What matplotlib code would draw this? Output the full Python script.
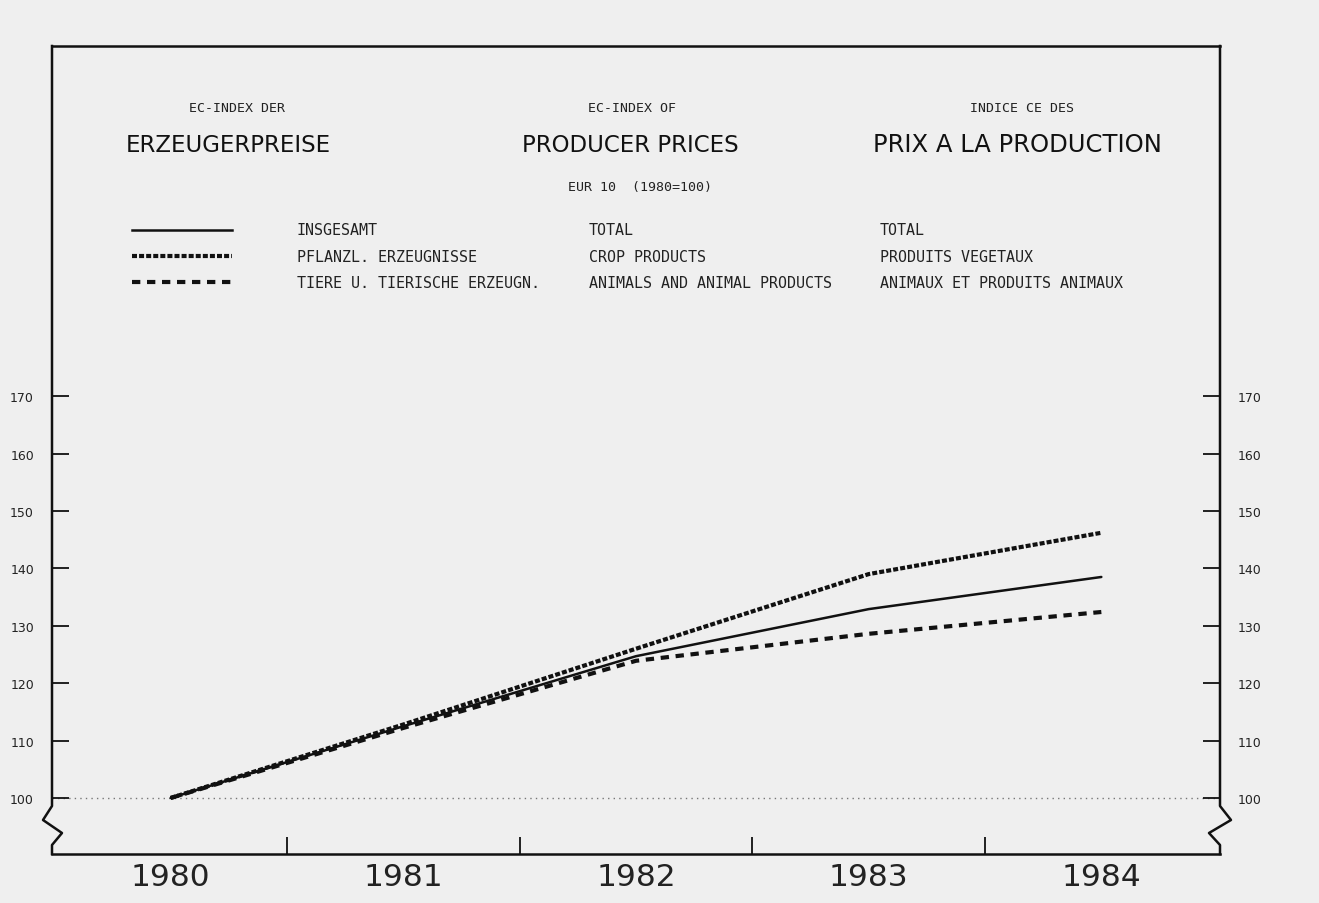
import matplotlib
matplotlib.use("Agg")
import matplotlib.pyplot as plt
from matplotlib.lines import Line2D

# Data (EUR 10, 1980 = 100)
years = [1980, 1981, 1982, 1983, 1984]
total = [100, 112.5, 124.7, 132.9, 138.5]
crop = [100, 112.8, 126.0, 139.0, 146.2]
animal = [100, 112.2, 123.9, 128.6, 132.4]

yticks = [100, 110, 120, 130, 140, 150, 160, 170]
half_years = [1980.5, 1981.5, 1982.5, 1983.5]

legend_de = ["INSGESAMT", "PFLANZL. ERZEUGNISSE", "TIERE U. TIERISCHE ERZEUGN."]
legend_en = ["TOTAL", "CROP PRODUCTS", "ANIMALS AND ANIMAL PRODUCTS"]
legend_fr = ["TOTAL", "PRODUITS VEGETAUX", "ANIMAUX ET PRODUITS ANIMAUX"]

W, H = 1319, 904
BG = "#efefef"
INK = "#111111"
MONO = "DejaVu Sans Mono"

styles = [
    dict(ls="-", lw=1.8),
    dict(ls=(0, (1.2, 0.5)), lw=3.0),
    dict(ls=(0, (2.0, 1.6)), lw=3.0),
]

fig = plt.figure(figsize=(W / 100, H / 100), dpi=100, facecolor=BG)

def fx(px):
    return px / W

def fy(py):
    return 1 - py / H

ax = fig.add_axes([fx(52), fy(855), (1220 - 52) / W, (855 - 47) / H])
ax.set_facecolor(BG)
ax.set_xlim(1979.49, 1984.51)
ax.set_ylim(90.24, 231.0)

for s in ["left", "right"]:
    ax.spines[s].set_visible(False)
for s in ["top", "bottom"]:
    ax.spines[s].set_linewidth(1.8)
    ax.spines[s].set_color(INK)

# reference line at 100
ax.axhline(100, color="#777777", ls=(0, (1, 3)), lw=1.0, zorder=1)

for vals, st in zip([total, crop, animal], styles):
    ax.plot(years, vals, color=INK, solid_capstyle="round", zorder=3, **st)

# side axes with break marks (axes coordinates)
def ya(py):
    return (855 - py) / 808

def xa(px):
    return (px - 52) / 1168

left_x = [52, 52, 43, 62, 52, 52]
right_x = [1220, 1220, 1231, 1209, 1220, 1220]
side_y = [47, 807, 821, 834, 846, 855]
ax.plot([xa(v) for v in left_x], [ya(v) for v in side_y], color=INK, lw=1.8,
        transform=ax.transAxes, clip_on=False)
ax.plot([xa(v) for v in right_x], [ya(v) for v in side_y], color=INK, lw=1.8,
        transform=ax.transAxes, clip_on=False)

# y ticks both sides
ax.set_yticks(yticks)
ax.set_yticklabels([str(v) for v in yticks])
ax.tick_params(axis="y", direction="in", length=12, width=1.3, color=INK,
               left=True, right=True, labelleft=True, labelright=True,
               labelsize=9, labelcolor="#222222", pad=13)

# x: year labels, ticks at half years
ax.set_xticks(years)
ax.set_xticklabels([str(y) for y in years], fontsize=22.5, color="#222222")
ax.set_xticks(half_years, minor=True)
ax.tick_params(axis="x", which="major", length=0, pad=6)
ax.tick_params(axis="x", which="minor", direction="in", length=12, width=1.3,
               color=INK)

# header texts
hdr_small = dict(fontsize=9.5, family=MONO, color="#222222", ha="center", va="center")
hdr_big = dict(fontsize=16.5, color="#111111", ha="center", va="center")
fig.text(fx(237), fy(108), "EC-INDEX DER", **hdr_small)
fig.text(fx(228), fy(145), "ERZEUGERPREISE", **hdr_big)
fig.text(fx(632), fy(108), "EC-INDEX OF", **hdr_small)
fig.text(fx(630), fy(145), "PRODUCER PRICES", **hdr_big)
fig.text(fx(1022), fy(108), "INDICE CE DES", **hdr_small)
fig.text(fx(1017), fy(145), "PRIX A LA PRODUCTION", fontsize=17.5,
         color="#111111", ha="center", va="center")
fig.text(fx(640), fy(188), "EUR 10  (1980=100)", **hdr_small)

# legend block
leg_y = [231, 257, 283]
for i, st in enumerate(styles):
    fig.add_artist(Line2D([fx(132), fx(232)], [fy(leg_y[i])] * 2,
                          color=INK, transform=fig.transFigure, **st))
    for col_x, lab in zip([297, 589, 880], [legend_de[i], legend_en[i], legend_fr[i]]):
        fig.text(fx(col_x), fy(leg_y[i]), lab, fontsize=10.8, family=MONO,
                 color="#222222", ha="left", va="center")

fig.savefig("out.png", dpi=100, facecolor=BG)
